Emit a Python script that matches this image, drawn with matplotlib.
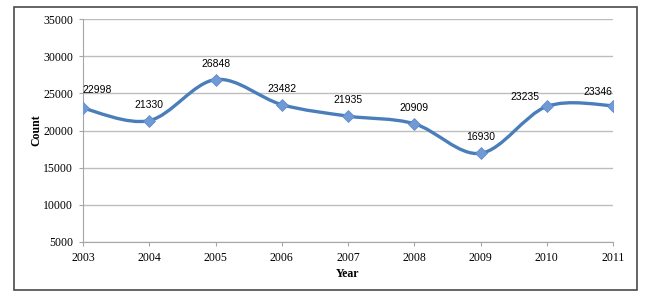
import matplotlib.pyplot as plt
import numpy as np
from matplotlib.path import Path
from matplotlib.patches import PathPatch, Rectangle

years = [2003, 2004, 2005, 2006, 2007, 2008, 2009, 2010, 2011]
counts = [22998, 21330, 26848, 23482, 21935, 20909, 16930, 23235, 23346]
yticks = [5000, 10000, 15000, 20000, 25000, 30000, 35000]

W, H = 646, 302
fig = plt.figure(figsize=(W / 100, H / 100), dpi=100)
ax = fig.add_axes([83 / W, 1 - 242 / H, 530 / W, 223 / H])

# outer chart frame
fig.patches.append(Rectangle((14 / W, 1 - 290 / H), 623 / W, 283 / H,
                             transform=fig.transFigure, fill=False,
                             edgecolor='#4a4a4a', linewidth=1.2))

# smoothed line like excel (catmull-rom bezier)
x = np.array(years, dtype=float)
y = np.array(counts, dtype=float)
verts = [(x[0], y[0])]
codes = [Path.MOVETO]
n = len(x)
for i in range(n - 1):
    p0 = (x[max(i - 1, 0)], y[max(i - 1, 0)])
    p1 = (x[i], y[i])
    p2 = (x[i + 1], y[i + 1])
    p3 = (x[min(i + 2, n - 1)], y[min(i + 2, n - 1)])
    c1 = (p1[0] + (p2[0] - p0[0]) / 6, p1[1] + (p2[1] - p0[1]) / 6)
    c2 = (p2[0] - (p3[0] - p1[0]) / 6, p2[1] - (p3[1] - p1[1]) / 6)
    verts += [c1, c2, p2]
    codes += [Path.CURVE4] * 3
ax.add_patch(PathPatch(Path(verts, codes), fill=False, edgecolor='#4a7ebb',
                       linewidth=2.4, zorder=3, capstyle='round'))
ax.plot(years, counts, linestyle='none', marker='D', markersize=6,
        color='#6f9ad6', markeredgecolor='#5b87c7', markeredgewidth=0.5, zorder=4)

# data labels
offsets = {0: (14, 18), 7: (-22, 9), 8: (-15, 14)}
for i, (xx, yy) in enumerate(zip(years, counts)):
    dx, dy = offsets.get(i, (0, 16))
    ax.annotate(str(yy), (xx, yy), xytext=(dx * 0.72, dy * 0.72),
                textcoords='offset points', ha='center', va='center',
                fontsize=7.5, family='Liberation Sans', zorder=5)

ax.set_xlim(2003, 2011)
ax.set_ylim(5000, 35000)
ax.set_xticks(years)
ax.set_yticks(yticks)
ax.grid(axis='y', color='#bdbdbd', linewidth=1)
ax.set_axisbelow(True)
for s in ['top', 'right']:
    ax.spines[s].set_visible(False)
for s in ['left', 'bottom']:
    ax.spines[s].set_color('#a6a6a6')
ax.tick_params(direction='out', length=3, color='#a6a6a6', pad=4)
for lab in ax.get_xticklabels() + ax.get_yticklabels():
    lab.set_family('Liberation Serif')
    lab.set_fontsize(8.5)

ax.set_xlabel('Year', family='Liberation Serif', fontweight='bold', fontsize=8.5, labelpad=3)
ax.set_ylabel('Count', family='Liberation Serif', fontweight='bold', fontsize=8.5, labelpad=1)

fig.savefig('out.png', dpi=100)
